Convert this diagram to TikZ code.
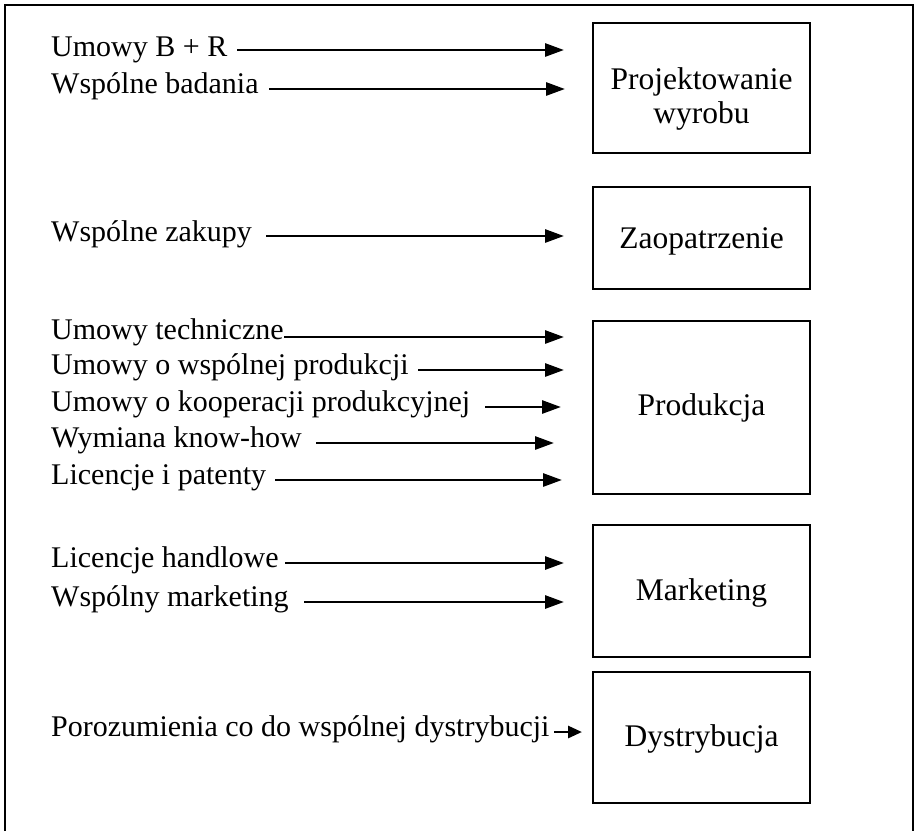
\documentclass[tikz,border=0pt]{standalone}
\usepackage{fontspec}
\setmainfont{Liberation Serif}
\usetikzlibrary{arrows.meta}
\begin{document}
\begin{tikzpicture}[x=1pt,y=-1pt,
  lbl/.style={anchor=base west, inner sep=0pt, font=\fontsize{30}{34}\selectfont},
  box/.style={draw, line width=2.8pt, minimum width=217pt, minimum height=#1, inner sep=0pt, align=center, font=\fontsize{31.5}{34}\selectfont},
  boxtext/.style={inner sep=0pt, align=center, font=\fontsize{31.5}{34}\selectfont},
  arr/.style={line width=2.8pt, -{Triangle[length=19pt,width=13pt]}},
  shortarr/.style={line width=2.8pt, -{Triangle[length=14pt,width=12pt]}},
  frame/.style={line width=2.6pt}]
\useasboundingbox (0,0) rectangle (917,831);
% outer frame (bottom edge cut off in the reference)
\draw[frame] (5,831) -- (5,5) -- (913,5) -- (913,831);

% boxes
\node[box=130pt] (proj) at (701.5,88) {};
\node[boxtext, anchor=base] (projt) at (701.5,89) {Projektowanie};
\node[boxtext, anchor=base] (projt2) at (701.5,123) {wyrobu};
\node[box=102pt] (zaop) at (701.5,238) {};
\node[boxtext, anchor=base] (zaopt) at (701.5,248) {Zaopatrzenie};
\node[box=173pt] (prod) at (701.5,407.5) {};
\node[boxtext, anchor=base] (prodt) at (701.5,415) {Produkcja};
\node[box=132pt] (mark) at (701.5,591) {};
\node[boxtext, anchor=base] (markt) at (701.5,600) {Marketing};
\node[box=131pt] (dyst) at (701.5,737.5) {};
\node[boxtext, anchor=base] (dystt) at (701.5,746) {Dystrybucja};

% labels
\node[lbl] (t1) at (51,56) {Umowy B + R};
\node[lbl] (t2) at (51,93) {Wspólne badania};
\node[lbl] (t3) at (51,241) {Wspólne zakupy};
\node[lbl] (t4) at (51,339) {Umowy techniczne};
\node[lbl] (t5) at (51,374) {Umowy o wspólnej produkcji};
\node[lbl] (t6) at (51,411) {Umowy o kooperacji produkcyjnej};
\node[lbl] (t7) at (51,447) {Wymiana know-how};
\node[lbl] (t8) at (51,484) {Licencje i patenty};
\node[lbl] (t9) at (51,567) {Licencje handlowe};
\node[lbl] (t10) at (51,606) {Wspólny marketing};
\node[lbl] (t11) at (51,736) {Porozumienia co do wspólnej dystrybucji};

% arrow end points
\coordinate (s1) at (237,50);   \coordinate (e1) at (564,50);
\coordinate (s2) at (269,89);   \coordinate (e2) at (565,89);
\coordinate (s3) at (266,236);  \coordinate (e3) at (564,236);
\coordinate (s4) at (284,337);  \coordinate (e4) at (564,337);
\coordinate (s5) at (418,370);  \coordinate (e5) at (564,370);
\coordinate (s6) at (485,407);  \coordinate (e6) at (561,407);
\coordinate (s7) at (316,443);  \coordinate (e7) at (554,443);
\coordinate (s8) at (275,480);  \coordinate (e8) at (562,480);
\coordinate (s9) at (285,563);  \coordinate (e9) at (564,563);
\coordinate (s10) at (304,602); \coordinate (e10) at (564,602);
\coordinate (s11) at (554,732); \coordinate (e11) at (582,732);

\foreach \i in {1,...,10} \draw[arr] (s\i) -- (e\i);
\draw[shortarr] (s11) -- (e11);
\end{tikzpicture}
\end{document}
